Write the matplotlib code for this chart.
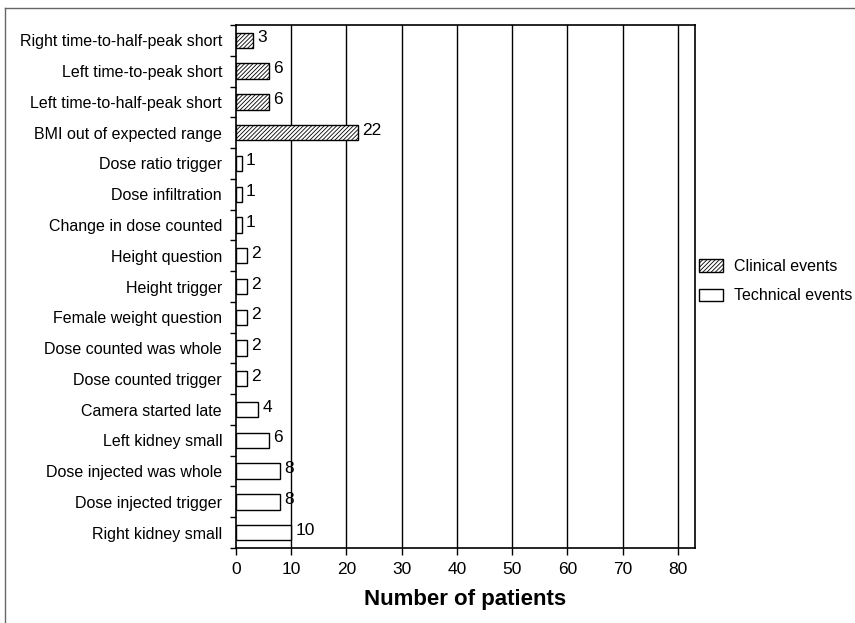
import numpy as np
import matplotlib.pyplot as plt
from matplotlib.patches import Patch
from matplotlib.lines import Line2D

plt.rcParams['font.family'] = ['Liberation Sans', 'DejaVu Sans']
plt.rcParams['hatch.linewidth'] = 0.6

# top to bottom
categories = ['Right time-to-half-peak short', 'Left time-to-peak short',
              'Left time-to-half-peak short', 'BMI out of expected range',
              'Dose ratio trigger', 'Dose infiltration', 'Change in dose counted',
              'Height question', 'Height trigger', 'Female weight question',
              'Dose counted was whole', 'Dose counted trigger', 'Camera started late',
              'Left kidney small', 'Dose injected was whole', 'Dose injected trigger',
              'Right kidney small']
counts = [3, 6, 6, 22, 1, 1, 1, 2, 2, 2, 2, 2, 4, 6, 8, 8, 10]
clinical = [True, True, True, True] + [False] * 13
xticks = [0, 10, 20, 30, 40, 50, 60, 70, 80]

fig = plt.figure(figsize=(8.55, 6.23), dpi=100)
ax = fig.add_axes([236 / 855, 1 - 548 / 623, (695 - 236) / 855, (548 - 25) / 623])

n = len(categories)
ypos = np.arange(n)[::-1]
for y, v, c in zip(ypos, counts, clinical):
  ax.barh(y, v, height=0.5, color='white', edgecolor='black', linewidth=1,
          hatch='////////' if c else None, zorder=3)
  ax.text(v + 0.8, y + 0.08, str(v), va='center', ha='left', fontsize=12.5, zorder=4)

for x in xticks[1:]:
  ax.axvline(x, color='black', linewidth=1, zorder=1)

ax.set_xlim(0, 83.1)
ax.set_ylim(-0.5, n - 0.5)
ax.set_xticks(xticks)
ax.tick_params(axis='x', labelsize=12.5, length=5, width=1, direction='out', pad=5)
ax.set_yticks(ypos)
ax.set_yticklabels(categories, fontsize=11.5)
ax.tick_params(axis='y', length=0, pad=10)
ax.set_yticks(np.arange(n + 1) - 0.5, minor=True)
ax.tick_params(axis='y', which='minor', length=4, width=1, direction='out')
for s in ax.spines.values():
  s.set_linewidth(1.2)

ax.set_xlabel('Number of patients', fontsize=16, fontweight='heavy', labelpad=9)

handles = [Patch(facecolor='white', edgecolor='black', hatch='////////'),
           Patch(facecolor='white', edgecolor='black')]
fig.legend(handles, ['Clinical events', 'Technical events'], loc='upper left',
           bbox_to_anchor=(699 / 855, 1 - 259 / 623), frameon=False, fontsize=11.5,
           handlelength=1.5, handleheight=0.8, handletextpad=0.7, labelspacing=0.9,
           borderaxespad=0, borderpad=0)

# outer frame (top and left visible)
fig.add_artist(Line2D([5 / 855, 1], [1 - 8 / 623, 1 - 8 / 623], color='#666666', linewidth=1))
fig.add_artist(Line2D([5 / 855, 5 / 855], [0, 1 - 8 / 623], color='#666666', linewidth=1))

fig.savefig('out.png', dpi=100)
